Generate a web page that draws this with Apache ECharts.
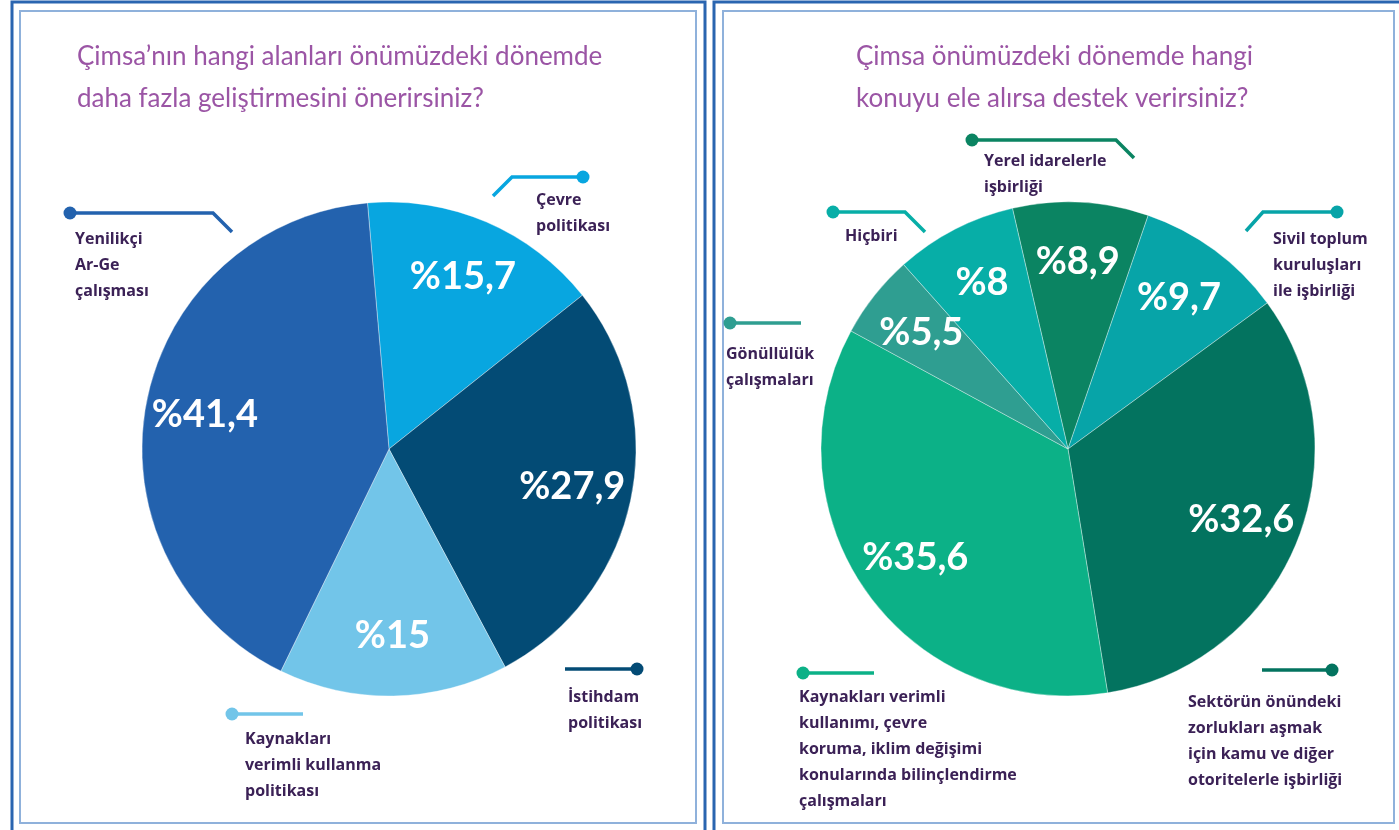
<!DOCTYPE html>
<html>
<head>
<meta charset="utf-8">
<script src="https://cdn.jsdelivr.net/npm/echarts@6/dist/echarts.min.js"></script>
<style>
html,body{margin:0;padding:0;background:#fff}
#chart{width:1399px;height:830px}
</style>
</head>
<body>
<div id="chart"></div>
<script>
// sol grafik: önerilen alanlar
var leftNames = ['Çevre\npolitikası', 'İstihdam\npolitikası', 'Kaynakları\nverimli kullanma\npolitikası', 'Yenilikçi\nAr-Ge\nçalışması'];
var leftValues = [15.7, 27.9, 15, 41.4];
var leftColors = ['#08a6e0', '#034b75', '#72c5e9', '#2362ae'];

// sağ grafik: destek verilecek konular
var rightNames = ['Yerel idarelerle\nişbirliği', 'Sivil toplum\nkuruluşları\nile işbirliği', 'Sektörün önündeki\nzorlukları aşmak\niçin kamu ve diğer\notoritelerle işbirliği', 'Kaynakları verimli\nkullanımı, çevre\nkoruma, iklim değişimi\nkonularında bilinçlendirme\nçalışmaları', 'Gönüllülük\nçalışmaları', 'Hiçbiri'];
var rightValues = [8.9, 9.7, 32.6, 35.6, 5.5, 8];
var rightColors = ['#0b8462', '#07a4a8', '#03735f', '#0cb187', '#2f9e91', '#07aea7'];

// etiket yerleşimi (metin sol-üst köşe + çizgi noktaları)
var leftLabelPos = [
    {x: 536, y: 187, line: [[583, 177], [512, 177], [493, 196]]},
    {x: 568, y: 684, line: [[637, 669], [565, 669]]},
    {x: 245, y: 726, line: [[232, 714], [303, 714]]},
    {x: 75, y: 226, line: [[70, 213], [213, 213], [232, 232]]}
];
var rightLabelPos = [
    {x: 984, y: 148, line: [[972, 140], [1116, 140], [1134, 158]]},
    {x: 1273, y: 226, line: [[1337, 212], [1263, 212], [1246, 231]]},
    {x: 1188, y: 689, line: [[1332, 670], [1262, 670]]},
    {x: 799, y: 684, line: [[803, 673], [874, 673]]},
    {x: 726, y: 341, line: [[730, 323], [801, 323]]},
    {x: 845, y: 223, line: [[833, 212], [905, 212], [925, 232]]}
];

var FONT = 'Lato, "Noto Sans", sans-serif';
var LABEL_FONT = '"Open Sans", "Noto Sans", sans-serif';
var R = 247;

function pctText(v){
    return '%' + String(v).replace('.', ',');
}

function makePie(names, values, colors, center, startAngle, labelPos){
    var main = {
        type: 'pie',
        center: center,
        radius: R,
        startAngle: startAngle,
        silent: true,
        animation: false,
        avoidLabelOverlap: false,
        itemStyle: {borderColor: 'rgba(255,255,255,0.35)', borderWidth: 1},
        data: values.map(function(v, i){
            return {name: names[i], value: v, itemStyle: {color: colors[i]}};
        }),
        label: {
            show: true,
            position: 'inside',
            formatter: function(p){ return pctText(p.value); },
            color: '#fff',
            fontFamily: FONT,
            fontWeight: 'bold',
            fontSize: 38
        },
        labelLine: {show: false},
        labelLayout: function(p){
            var r = p.labelRect;
            var cx = r.x + r.width / 2, cy = r.y + r.height / 2;
            return {
                x: center[0] + (cx - center[0]) * 1.48,
                y: center[1] + (cy - center[1]) * 1.48,
                align: 'center',
                verticalAlign: 'middle'
            };
        }
    };
    var names2 = {
        type: 'pie',
        center: center,
        radius: R,
        startAngle: startAngle,
        silent: true,
        animation: false,
        avoidLabelOverlap: false,
        emphasis: {disabled: true},
        data: values.map(function(v, i){
            return {
                name: names[i], value: v,
                itemStyle: {color: 'rgba(0,0,0,0)', borderWidth: 0},
                labelLine: {lineStyle: {color: colors[i]}}
            };
        }),
        label: {
            show: true,
            position: 'outside',
            formatter: '{b}',
            color: '#3b2156',
            fontFamily: LABEL_FONT,
            fontWeight: 'bold',
            fontSize: 16,
            lineHeight: 26,
            overflow: 'none'
        },
        labelLine: {show: true, length: 10, length2: 10, lineStyle: {width: 3.5}},
        labelLayout: function(p){
            var s = labelPos[p.dataIndex];
            return {x: s.x, y: s.y, align: 'left', verticalAlign: 'top', labelLinePoints: s.line};
        }
    };
    return [main, names2];
}

function dots(labelPos, colors){
    return labelPos.map(function(s, i){
        return {type: 'circle', shape: {cx: s.line[0][0], cy: s.line[0][1], r: 6.5}, style: {fill: colors[i]}, z: 10};
    });
}

var frames = [
    {type: 'rect', shape: {x: 12, y: 2, width: 693, height: 832}, style: {fill: null, stroke: '#2a65b0', lineWidth: 3}},
    {type: 'rect', shape: {x: 20, y: 11, width: 676, height: 812}, style: {fill: null, stroke: '#8fb1db', lineWidth: 2}},
    {type: 'rect', shape: {x: 714, y: 2, width: 700, height: 832}, style: {fill: null, stroke: '#2a65b0', lineWidth: 3}},
    {type: 'rect', shape: {x: 723, y: 11, width: 671, height: 812}, style: {fill: null, stroke: '#8fb1db', lineWidth: 2}}
];

var titleStyle = {color: '#9b55a5', fontFamily: FONT, fontWeight: 'normal', fontSize: 26, lineHeight: 42};

var chart = echarts.init(document.getElementById('chart'));
chart.setOption({
    backgroundColor: '#fff',
    title: [
        {text: 'Çimsa’nın hangi alanları önümüzdeki dönemde\ndaha fazla geliştirmesini önerirsiniz?', left: 77, top: 36, padding: 0, textStyle: titleStyle},
        {text: 'Çimsa önümüzdeki dönemde hangi\nkonuyu ele alırsa destek verirsiniz?', left: 856, top: 36, padding: 0, textStyle: titleStyle}
    ],
    graphic: frames.concat(dots(leftLabelPos, leftColors), dots(rightLabelPos, rightColors)),
    series: makePie(leftNames, leftValues, leftColors, [389, 449], 95, leftLabelPos)
        .concat(makePie(rightNames, rightValues, rightColors, [1068, 449], 103, rightLabelPos))
});
</script>
</body>
</html>
